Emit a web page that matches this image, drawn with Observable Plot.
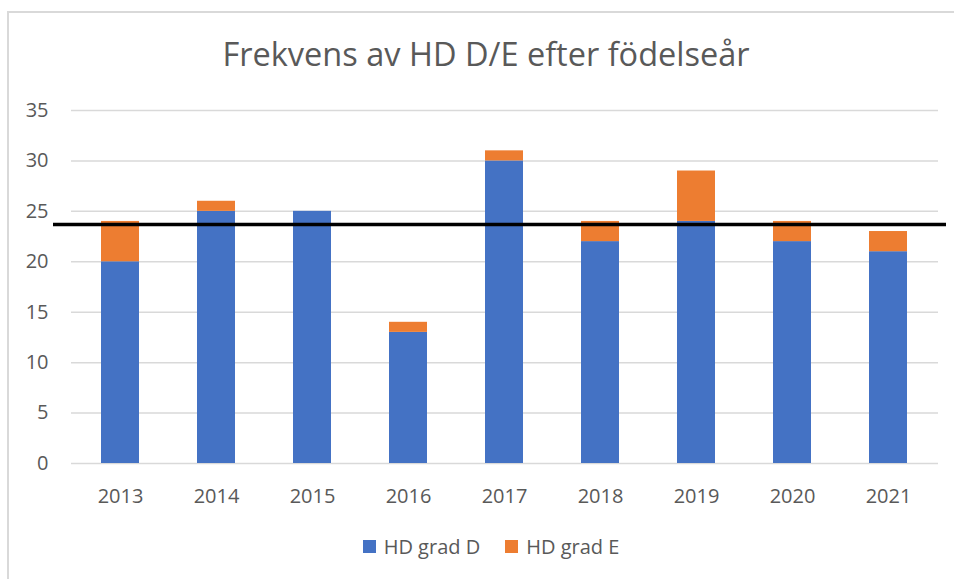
<!DOCTYPE html>
<html>
<head>
<meta charset="utf-8">
<script src="https://cdn.jsdelivr.net/npm/d3@7"></script>
<script src="https://cdn.jsdelivr.net/npm/@observablehq/plot@0.6"></script>
<style>
  html, body { margin: 0; padding: 0; background: #fff; }
  body { width: 954px; height: 579px; position: relative; overflow: hidden; font-family: "Open Sans", sans-serif; }
  #frame { position: absolute; left: 7px; top: 11px; right: 0; bottom: 0; border-top: 2px solid #d9d9d9; border-left: 2px solid #d9d9d9; }
  #title { position: absolute; left: 9px; top: 31px; width: 954px; text-align: center; font-size: 32.5px; color: #595959; }
  #chart { position: absolute; left: 0; top: 80px; }
  #legend { position: absolute; left: 14px; top: 533px; width: 954px; display: flex; justify-content: center; gap: 25px; font-size: 20px; color: #595959; }
  #legend .item { display: flex; align-items: center; gap: 8px; }
  #legend .sw { width: 13px; height: 13px; display: inline-block; }
</style>
</head>
<body>
<div id="frame"></div>
<div id="title">Frekvens av HD D/E efter födelseår</div>
<div id="chart"></div>
<div id="legend"></div>
<script>
const years = ["2013","2014","2015","2016","2017","2018","2019","2020","2021"];
const gradD = [20, 25, 25, 13, 30, 22, 24, 22, 21];
const gradE = [4, 1, 0, 1, 1, 2, 5, 2, 2];
const seriesNames = ["HD grad D", "HD grad E"];
const seriesColors = ["#4472C4", "#ED7D31"];
const yTicks = [0, 5, 10, 15, 20, 25, 30, 35];
const referenceLine = 23.7;

const rows = [];
years.forEach((y, i) => {
  rows.push({year: y, series: seriesNames[0], value: gradD[i]});
  rows.push({year: y, series: seriesNames[1], value: gradE[i]});
});

const plot = Plot.plot({
  width: 954,
  height: 440,
  marginTop: 30,
  marginBottom: 57,
  marginLeft: 71,
  marginRight: 16,
  style: {fontFamily: "Open Sans, sans-serif", fontSize: "20px", color: "#595959", background: "transparent"},
  x: {domain: years, label: null, paddingInner: 0.6, paddingOuter: 0.3, tickSize: 0, tickPadding: 25},
  y: {domain: [0, 35], ticks: yTicks, label: null, tickSize: 0, tickPadding: 23},
  color: {domain: seriesNames, range: seriesColors},
  marks: [
    Plot.gridY(yTicks, {stroke: "#d9d9d9", strokeOpacity: 1, strokeWidth: 1.5}),
    Plot.barY(rows, {x: "year", y: "value", fill: "series", order: seriesNames}),
    Plot.ruleY([referenceLine], {stroke: "#000", strokeWidth: 3.5, insetLeft: -18, insetRight: -8})
  ]
});
document.getElementById("chart").appendChild(plot);

const legend = document.getElementById("legend");
seriesNames.forEach((name, i) => {
  const item = document.createElement("div");
  item.className = "item";
  const sw = document.createElement("span");
  sw.className = "sw";
  sw.style.background = seriesColors[i];
  const t = document.createElement("span");
  t.textContent = name;
  item.appendChild(sw);
  item.appendChild(t);
  legend.appendChild(item);
});
</script>
</body>
</html>
